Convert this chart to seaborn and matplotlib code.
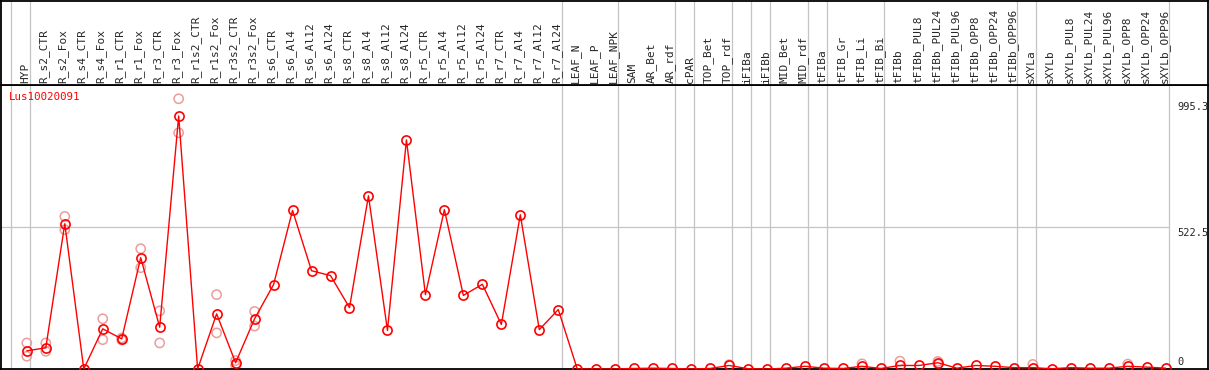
import pandas as pd
import seaborn as sns
import matplotlib.pyplot as plt
import matplotlib.transforms as mtransforms

gene = "Lus10020091"

samples = [
    "HYP",
    "R_s2_CTR", "R_s2_Fox", "R_s4_CTR", "R_s4_Fox", "R_r1_CTR", "R_r1_Fox",
    "R_r3_CTR", "R_r3_Fox", "R_r1s2_CTR", "R_r1s2_Fox", "R_r3s2_CTR", "R_r3s2_Fox",
    "R_s6_CTR", "R_s6_Al4", "R_s6_Al12", "R_s6_Al24",
    "R_s8_CTR", "R_s8_Al4", "R_s8_Al12", "R_s8_Al24",
    "R_r5_CTR", "R_r5_Al4", "R_r5_Al12", "R_r5_Al24",
    "R_r7_CTR", "R_r7_Al4", "R_r7_Al12", "R_r7_Al24",
    "LEAF_N", "LEAF_P", "LEAF_NPK",
    "SAM", "AR_Bet", "AR_rdf", "cPAR", "TOP_Bet", "TOP_rdf", "iFIBa", "iFIBb",
    "MID_Bet", "MID_rdf", "tFIBa", "tFIB_Gr", "tFIB_Li", "tFIB_Bi",
    "tFIBb", "tFIBb_PUL8", "tFIBb_PUL24", "tFIBb_PUL96", "tFIBb_OPP8", "tFIBb_OPP24", "tFIBb_OPP96",
    "sXYLa",
    "sXYLb", "sXYLb_PUL8", "sXYLb_PUL24", "sXYLb_PUL96", "sXYLb_OPP8", "sXYLb_OPP24", "sXYLb_OPP96",
]

# mean expression per sample
means = [
    67,
    78, 535, 0, 148, 111, 410,
    154, 932, 0, 203, 23, 185,
    311, 584, 362, 344,
    226, 638, 142, 844,
    274, 587, 271, 312,
    164, 568, 145, 219,
    0, 0, 0,
    2, 3, 2, 0, 2, 13, 1, 0,
    3, 10, 3, 2, 10, 2,
    13, 13, 23, 3, 13, 10, 5,
    5,
    1, 5, 3, 3, 10, 7, 3,
]

# individual replicates that stand out from the mean
rep_samples = [
    "HYP", "HYP", "R_s2_CTR", "R_s2_CTR", "R_s2_Fox", "R_s2_Fox",
    "R_s4_Fox", "R_s4_Fox", "R_r1_CTR", "R_r1_CTR", "R_r1_Fox", "R_r1_Fox",
    "R_r3_CTR", "R_r3_CTR", "R_r3_Fox", "R_r3_Fox", "R_r1s2_Fox", "R_r1s2_Fox",
    "R_r3s2_CTR", "R_r3s2_CTR", "R_r3s2_Fox", "R_r3s2_Fox",
    "TOP_rdf", "tFIB_Li", "tFIBb", "tFIBb_PUL24", "tFIBb_PUL24", "sXYLa", "sXYLb_OPP8",
]
rep_values = [
    96, 47, 96, 65, 562, 513,
    185, 108, 114, 107, 443, 373,
    214, 96, 995.3, 870, 274, 133,
    13, 31, 212, 158,
    16, 19, 29, 28, 18, 17, 18,
]

# last sample of each group (vertical separators)
group_ends = ["HYP", "R_r7_Al24", "LEAF_NPK", "AR_rdf", "cPAR", "TOP_rdf", "iFIBa",
              "iFIBb", "MID_rdf", "tFIBa", "tFIB_Bi", "tFIBb_OPP96", "sXYLa", "sXYLb_OPP96"]

y_labels = [995.3, 522.5, 0]

sns.set_style("white")
plt.rcParams["font.family"] = ["DejaVu Sans Mono", "DejaVu Sans"]

W, H = 1209, 370
fig = plt.figure(figsize=(W / 100, H / 100), dpi=100)
ax = fig.add_axes([1 / W, 1 / H, 1207 / W, 284 / H])
hx = fig.add_axes([1 / W, 285 / H, 1207 / W, 84.5 / H], sharex=ax)

df = pd.DataFrame({"x": range(len(samples)), "expr": means})
reps = pd.DataFrame({"x": [samples.index(s) for s in rep_samples], "expr": rep_values})

grid_c = "#c4c4c4"
seps = [-1 + 0.17] + [samples.index(s) + 0.17 for s in group_ends]
for a in (ax, hx):
    for xs in seps:
        a.axvline(xs, color=grid_c, lw=0.9, zorder=0)
ax.plot([-2, seps[-1]], [522.5, 522.5], color=grid_c, lw=0.9, zorder=0)

sns.scatterplot(data=reps, x="x", y="expr", ax=ax, marker="o", s=44,
                color="#ec9c9c", facecolors="none", edgecolor="#ec9c9c",
                linewidth=1.1, zorder=2, legend=False)
sns.lineplot(data=df, x="x", y="expr", ax=ax, color="red", lw=1.0,
             marker="o", markersize=6.6, markerfacecolor="none",
             markeredgecolor="red", markeredgewidth=1.2, zorder=3)

ax.set_xlim(-1.36, 62.23)
ax.set_ylim(0, 1046)
for a in (ax, hx):
    a.set_xticks([])
    a.set_yticks([])
    a.set_xlabel("")
    a.set_ylabel("")
    for sp in a.spines.values():
        sp.set_color("black")
        sp.set_linewidth(1.3)

ax.text(0.0066, 0.958, gene, transform=ax.transAxes, color="red",
        fontsize=7.8, va="center", ha="left")

ytrans = ax.get_yaxis_transform()
for v in y_labels:
    if v == 0:
        tr = mtransforms.offset_copy(ytrans, fig=fig, y=2, units="dots")
        va = "bottom"
    else:
        off = -3 if v == max(y_labels) else -1
        tr = mtransforms.offset_copy(ytrans, fig=fig, y=off, units="dots")
        va = "top"
    ax.text(0.9743, v, f"{v:g}", transform=tr, fontsize=7.5, ha="left", va=va)

htrans = hx.get_xaxis_transform()
for i, name in enumerate(samples):
    hx.text(i - 0.08, 0.024, name, transform=htrans, rotation=90,
            ha="center", va="bottom", fontsize=8)

fig.savefig("out.png", dpi=100)
